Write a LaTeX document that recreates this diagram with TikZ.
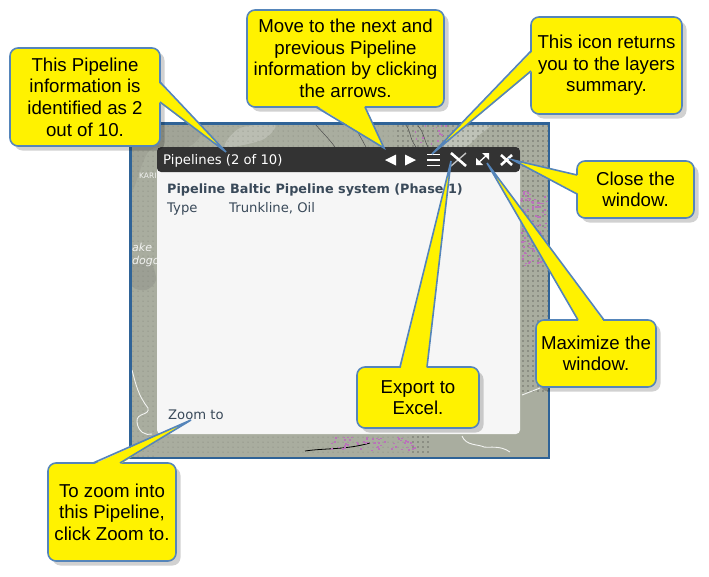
\documentclass[tikz,border=0pt]{standalone}
\usepackage{fontspec}
\setmainfont{Liberation Sans}
\newfontfamily\webfont{DejaVu Sans}
\usetikzlibrary{calc,shadows}
\definecolor{mapgreen}{HTML}{A9AD9F}
\definecolor{mapedge}{HTML}{2F6397}
\definecolor{headbar}{HTML}{333333}
\definecolor{pagegrey}{HTML}{F6F6F6}
\definecolor{calloutblue}{HTML}{5585BA}
\definecolor{linktext}{HTML}{3A4A5A}
\tikzset{
	note/.style={draw=calloutblue,line width=1.6pt,fill=yellow,rounded corners=8pt,align=center,
		inner sep=0pt,font=\fontsize{18.67}{21.6}\selectfont,
		drop shadow={shadow xshift=4.5pt,shadow yshift=-4.5pt,fill=black,opacity=0.18}},
	tailshadow/.style={fill=black,opacity=0.18,shift={(4.5,4.5)}},
	tailfill/.style={fill=yellow},
	tailline/.style={draw=calloutblue,line width=1.6pt,line join=miter},
	mapword/.style={anchor=west,text=white!85!mapgreen,inner sep=0pt,font=\webfont\fontsize{11}{13}\selectfont\itshape,align=left},
	pageword/.style={anchor=base west,inner sep=0pt,font=\webfont\fontsize{13.2}{15}\selectfont,text=linktext},
	pagebold/.style={pageword,font=\webfont\bfseries\fontsize{12.8}{15}\selectfont},
	tool/.style={white,line width=1.8pt},
	faintdot/.style={fill=black!28!mapgreen},
	darkdot/.style={fill=black!75!mapgreen},
	blackline/.style={black!70,line width=0.5pt},
	whiteline/.style={white!85!mapgreen,line width=0.9pt},
	speck/.style={fill=white!45!violet}
}
\begin{document}
\begin{tikzpicture}[x=1pt,y=-1pt]
	\useasboundingbox (0,0) rectangle (709,576);
	% map behind the window
	\node (map) at (339.5,290.5) [fill=mapgreen,minimum width=418pt,minimum height=334pt,inner sep=0pt] {};
	\begin{scope}
	\clip (map.north west) rectangle (map.south east);
	\fill[white!20!mapgreen] plot[smooth cycle] coordinates {(225,147)(240,128)(275,125)(262,140)};
	\fill[white!25!mapgreen] plot[smooth cycle] coordinates {(442,147)(462,128)(490,125)(478,136)(465,147)};
	\fill[black!5!mapgreen] plot[smooth cycle] coordinates {(132,126)(200,126)(190,146)(150,150)(132,190)};
	\fill[blue!10!black!8!mapgreen] plot[smooth cycle] coordinates {(132,262)(150,262)(156,280)(146,290)(132,286)};
	\end{scope}
	\foreach \i in {133,138,...,393}{
		\foreach \j in {126,131,...,146}{
			\fill[faintdot] (\i,\j) circle (0.5);
		}
	}
	\foreach \i in {398,403,...,548}{
		\foreach \j in {126,131,...,146}{
			\fill[darkdot] (\i,\j) circle (0.55);
		}
	}
	\foreach \i in {523,528,...,548}{
		\foreach \j in {151,156,...,391}{
			\fill[darkdot] (\i,\j) circle (0.55);
		}
	}
	\foreach \i in {133,138,...,153}{
		\foreach \j in {151,156,...,456}{
			\fill[faintdot] (\i,\j) circle (0.5);
		}
	}
	\foreach \i in {158,163,...,408}{
		\foreach \j in {437,442,...,456}{
			\fill[faintdot] (\i,\j) circle (0.5);
		}
	}
	\foreach \i in {413,418,...,428}{
		\foreach \j in {437,442,...,456}{
			\fill[darkdot] (\i,\j) circle (0.55);
		}
	}
	\draw[blackline] (315,124)..controls (322,132) and (330,140)..(335,147);
	\draw[blackline] (353,124)..controls (358,132) and (362,140)..(366,147);
	\draw[blackline] (405,124)..controls (412,132) and (408,136)..(416,147);
	\draw[blackline] (418,126)..controls (424,132) and (424,140)..(428,147);
	\draw[whiteline] (132,370)..controls (136,385) and (138,395)..(148,408)..controls (150,416) and (136,412)..(137,422)..controls (138,432) and (146,436)..(152,434);
	\draw[whiteline] (462,436)..controls (466,446) and (478,444)..(484,447)..controls (490,448) and (500,445)..(510,452);
	\draw[whiteline] (522,395)--(540,388);
	\draw[black,line width=0.8pt] (305,451)..controls (325,448) and (345,450)..(370,443);
	\pgfmathsetseed{7}
	\foreach \k in {1,...,110}{
		\fill[speck] (520+rnd*27,190+rnd*75) rectangle +(2,1.5);
	}
	\foreach \k in {1,...,55}{
		\fill[speck] (330+rnd*85,436+rnd*14) rectangle +(2,1.5);
	}
	\foreach \k in {1,...,14}{
		\fill[speck] (412+rnd*34,125+rnd*20) rectangle +(1.6,1.4);
	}
	\node (kari) at (139,176) [mapword,font=\webfont\fontsize{7.5}{9}\selectfont] {KARI};
	\node (lake) at (132,254.5) [mapword] {ake\\dogo};
	\draw[mapedge,line width=2.4pt] (map.north west) rectangle (map.south east);
	% window
	\node (window) at (338.5,290.5) [fill=pagegrey,rounded corners=4pt,minimum width=363pt,minimum height=287pt,inner sep=0pt] {};
	\fill[headbar,rounded corners=4pt] (157,172)--(157,147)--(520,147)--(520,172)--cycle;
	\node (title) at (163,164) [pageword,text=white] {Pipelines (2 of 10)};
	\node (rowa) at (167,193.5) [pagebold] {Pipeline};
	\node (rowb) at (230,193.5) [pagebold] {Baltic Pipeline system (Phase 1)};
	\node (rowc) at (167,212) [pageword] {Type};
	\node (rowd) at (229,212) [pageword] {Trunkline, Oil};
	\node (zoomlink) at (168,419) [pageword] {Zoom to};
	% header icons
	\fill[white] (385,160)--(396,154.5)--(396,165.5)--cycle;
	\fill[white] (416,160)--(405,154.5)--(405,165.5)--cycle;
	\draw[tool] (427,154.5)--(440,154.5) (427,160)--(440,160) (427,165.5)--(440,165.5);
	\draw[white!70!headbar,line width=1.4pt] (466,153)--(451,166);
	\draw[white,line width=2.6pt] (451,153)--(466,166);
	\draw[tool,line width=1.3pt] (477,164)--(488,154);
	\fill[white] (476,165)--(476,158)--(483,165)--cycle;
	\fill[white] (489,153)--(489,160)--(482,153)--cycle;
	\draw[white,line width=2.6pt] (501,155)--(512,165) (512,155)--(501,165);
	% callouts
	\coordinate (tipa) at (226,152);
	\coordinate (aa) at (160,82);
	\coordinate (ab) at (160,102);
	\draw[tailshadow] (aa)--(tipa)--(ab)--cycle;
	\node (infonote) at (85,97) [note,minimum width=150pt,minimum height=98pt] {This Pipeline\\information is\\identified as 2\\out of 10.};
	\fill[tailfill] ($(aa)!1.5pt!(infonote.center)$)--(tipa)--($(ab)!1.5pt!(infonote.center)$)--cycle;
	\draw[tailline] (aa)--(tipa)--(ab);
	\coordinate (tipb) at (384,148);
	\coordinate (ba) at (316,107);
	\coordinate (bb) at (365,107);
	\draw[tailshadow] (ba)--(tipb)--(bb)--cycle;
	\node (arrownote) at (345.5,58.5) [note,minimum width=197pt,minimum height=97pt] {Move to the next and\\previous Pipeline\\information by clicking\\the arrows.};
	\fill[tailfill] ($(ba)!1.5pt!(arrownote.center)$)--(tipb)--($(bb)!1.5pt!(arrownote.center)$)--cycle;
	\draw[tailline] (ba)--(tipb)--(bb);
	\coordinate (tipc) at (432,154);
	\coordinate (ca) at (531,51);
	\coordinate (cb) at (531,71);
	\draw[tailshadow] (ca)--(tipc)--(cb)--cycle;
	\node (layernote) at (606.5,65.5) [note,minimum width=151pt,minimum height=97pt] {This icon returns\\you to the layers\\summary.};
	\fill[tailfill] ($(ca)!1.5pt!(layernote.center)$)--(tipc)--($(cb)!1.5pt!(layernote.center)$)--cycle;
	\draw[tailline] (ca)--(tipc)--(cb);
	\coordinate (tipd) at (513,160);
	\coordinate (da) at (577,175);
	\coordinate (db) at (577,194);
	\draw[tailshadow] (da)--(tipd)--(db)--cycle;
	\node (closenote) at (635.5,189.5) [note,minimum width=117pt,minimum height=57pt] {Close the\\window.};
	\fill[tailfill] ($(da)!1.5pt!(closenote.center)$)--(tipd)--($(db)!1.5pt!(closenote.center)$)--cycle;
	\draw[tailline] (da)--(tipd)--(db);
	\coordinate (tipe) at (487,163);
	\coordinate (ea) at (578,320);
	\coordinate (eb) at (604,320);
	\draw[tailshadow] (ea)--(tipe)--(eb)--cycle;
	\node (sizenote) at (596,353.5) [note,minimum width=120pt,minimum height=67pt] {Maximize the\\window.};
	\fill[tailfill] ($(ea)!1.5pt!(sizenote.center)$)--(tipe)--($(eb)!1.5pt!(sizenote.center)$)--cycle;
	\draw[tailline] (ea)--(tipe)--(eb);
	\coordinate (tipf) at (451,161);
	\coordinate (fa) at (400,367);
	\coordinate (fb) at (427,367);
	\draw[tailshadow] (fa)--(tipf)--(fb)--cycle;
	\node (excelnote) at (418,397.5) [note,minimum width=122pt,minimum height=61pt] {Export to\\Excel.};
	\fill[tailfill] ($(fa)!1.5pt!(excelnote.center)$)--(tipf)--($(fb)!1.5pt!(excelnote.center)$)--cycle;
	\draw[tailline] (fa)--(tipf)--(fb);
	\coordinate (tipg) at (191,420);
	\coordinate (ga) at (93,463);
	\coordinate (gb) at (120,463);
	\draw[tailshadow] (ga)--(tipg)--(gb)--cycle;
	\node (zoomnote) at (112,512) [note,minimum width=128pt,minimum height=98pt] {To zoom into\\this Pipeline,\\click Zoom to.};
	\fill[tailfill] ($(ga)!1.5pt!(zoomnote.center)$)--(tipg)--($(gb)!1.5pt!(zoomnote.center)$)--cycle;
	\draw[tailline] (ga)--(tipg)--(gb);
\end{tikzpicture}
\end{document}
